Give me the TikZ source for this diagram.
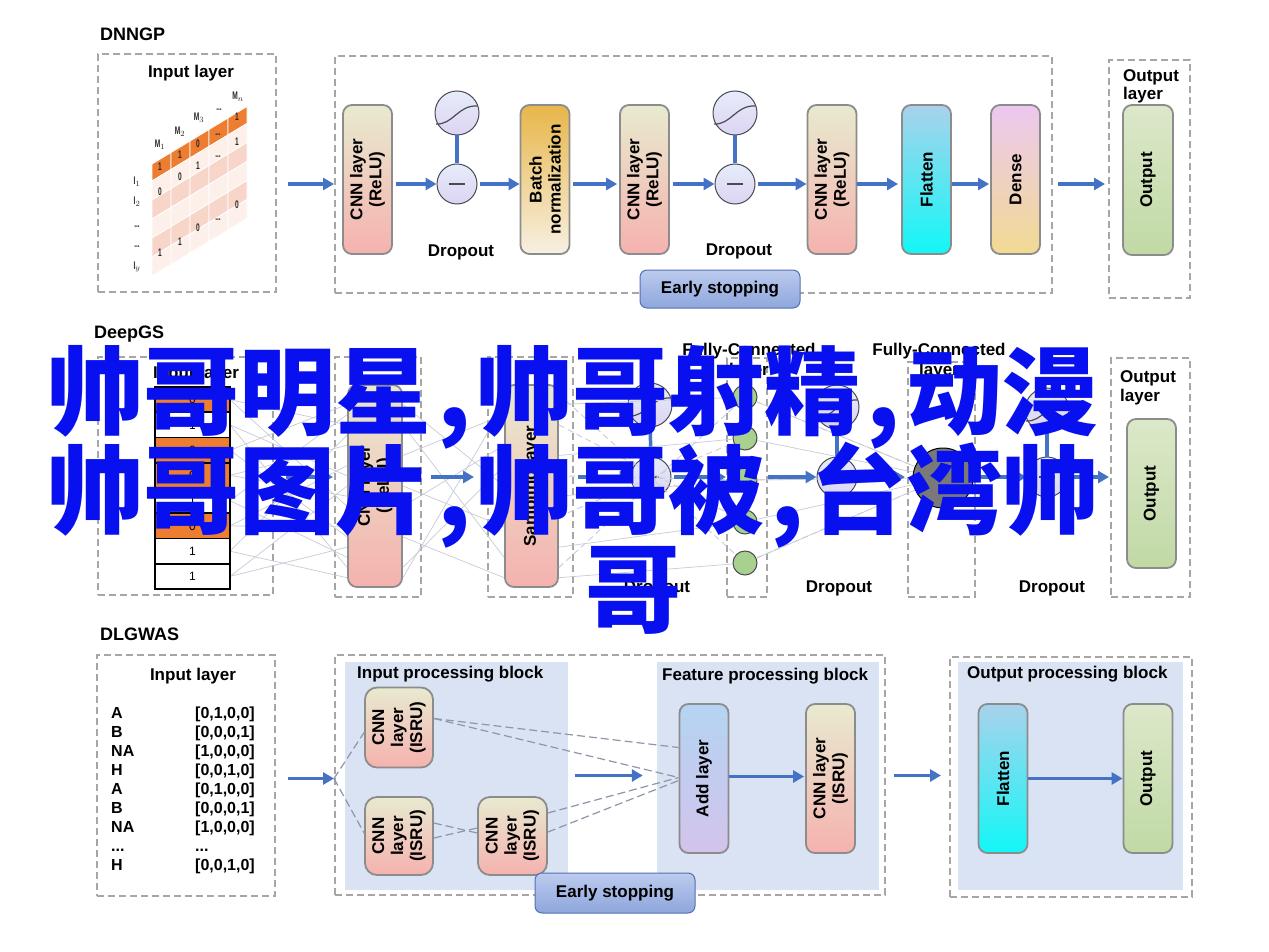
\documentclass[tikz,border=0pt]{standalone}
\usepackage{fontspec}
\setmainfont{Liberation Sans}
\newfontfamily\cjk{Noto Sans CJK SC}
\newfontfamily\narrowf{Liberation Sans}[FakeStretch=0.6]
\usetikzlibrary{arrows.meta,calc}
\newcommand{\mydots}{...}

\definecolor{boxgray}{HTML}{8C8C8C}
\definecolor{dashgray}{HTML}{A6A6A6}
\definecolor{arrowblue}{HTML}{4472C4}
\definecolor{cnnTop}{HTML}{E8EACF}
\definecolor{cnnBot}{HTML}{F5B2AE}
\definecolor{bnTop}{HTML}{E8B64A}
\definecolor{bnBot}{HTML}{F7F0E2}
\definecolor{flatTop}{HTML}{A9D2EC}
\definecolor{flatBot}{HTML}{12F7F7}
\definecolor{denseTop}{HTML}{ECC8F0}
\definecolor{denseBot}{HTML}{F2DA92}
\definecolor{outTop}{HTML}{DCE8CA}
\definecolor{outBot}{HTML}{C0D9A4}
\definecolor{addTop}{HTML}{B4D4F2}
\definecolor{addBot}{HTML}{D3C3EC}
\definecolor{blockfill}{HTML}{DAE3F3}
\definecolor{esTop}{HTML}{BCCBEE}
\definecolor{esBot}{HTML}{8EA6DC}
\definecolor{esBorder}{HTML}{5470B4}
\definecolor{circTop}{HTML}{E6ECFA}
\definecolor{circBot}{HTML}{DCD4F2}
\definecolor{neuBorder}{HTML}{4A4A55}
\definecolor{fcgreen}{HTML}{A9D18E}
\definecolor{mOrange}{HTML}{ED7D31}
\definecolor{mLight}{HTML}{FDF0EA}
\definecolor{mPink}{HTML}{F8D5C9}
\definecolor{netgray}{HTML}{C8CBD8}
\definecolor{fangray}{HTML}{8E96A8}
\definecolor{overlayblue}{RGB}{8,16,240}

\begin{document}
\begin{tikzpicture}[x=1pt,y=-1pt,
  lbl/.style={font=\bfseries\fontsize{17}{20}\selectfont, inner sep=0pt},
  ttl/.style={font=\bfseries\fontsize{18}{20}\selectfont, inner sep=0pt, anchor=base west},
  dbox/.style={draw=dashgray, line width=2pt, dash pattern=on 7pt off 4pt, inner sep=0pt},
  layer/.style={draw=boxgray, line width=1.8pt, rounded corners=9pt, minimum width=49pt, minimum height=149pt, inner sep=0pt},
  cnnl/.style={layer, top color=cnnTop, bottom color=cnnBot},
  bnl/.style={layer, top color=bnTop, bottom color=bnBot},
  flatl/.style={layer, top color=flatTop, bottom color=flatBot},
  densel/.style={layer, top color=denseTop, bottom color=denseBot},
  outl/.style={layer, top color=outTop, bottom color=outBot},
  addl/.style={layer, top color=addTop, bottom color=addBot},
  isru/.style={cnnl, minimum width=68pt, minimum height=80pt, rounded corners=12pt},
  vt/.style={rotate=90, align=center, font=\bfseries\fontsize{17}{19}\selectfont, inner sep=0pt},
  arr/.style={draw=arrowblue, line width=3.5pt, -{Triangle[length=11pt,width=12pt]}},
  neu/.style={circle, draw=neuBorder, line width=1pt, top color=circTop, bottom color=circBot, inner sep=0pt},
  sig/.style={neu, minimum size=44pt},
  mns/.style={neu, minimum size=40pt},
  fcn/.style={circle, draw=neuBorder, line width=1pt, fill=fcgreen, minimum size=24pt, inner sep=0pt},
  esb/.style={draw=esBorder, line width=1pt, rounded corners=7pt, top color=esTop, bottom color=esBot, minimum width=160pt, minimum height=38pt, inner sep=0pt, font=\bfseries\fontsize{17}{20}\selectfont},
  blk/.style={fill=blockfill, inner sep=0pt},
  cellb/.style={draw=black, line width=1.6pt, minimum width=75pt, minimum height=25.25pt, inner sep=0pt, font=\fontsize{12}{12}\selectfont},
  mtxt/.style={font=\narrowf\bfseries\fontsize{11}{11}\selectfont, inner sep=0pt, text=black!85},
  net/.style={draw=netgray, line width=0.7pt},
  netd/.style={draw=netgray, line width=0.9pt, dash pattern=on 6pt off 4pt},
  fan/.style={draw=fangray, line width=1.2pt, dash pattern=on 8pt off 4pt},
  seq/.style={font=\bfseries\fontsize{16}{18}\selectfont, inner sep=0pt, anchor=base west},
]
\useasboundingbox (0,0) rectangle (1269,952);
\fill[white] (0,0) rectangle (1269,952);

%%%%%%%%%%%%%%%% DNNGP %%%%%%%%%%%%%%%%
\node[ttl] (t1) at (100,41) {DNNGP};
\node[dbox, minimum width=178pt, minimum height=238pt] (inbox1) at (187,173) {};
\node[dbox, minimum width=717pt, minimum height=237pt] (main1) at (693.5,174.5) {};
\node[dbox, minimum width=81pt, minimum height=238pt] (outbox1) at (1149.5,179) {};
\node[lbl, anchor=base] (il1) at (191,78) {Input layer};

% skewed matrix
\foreach \i in {0,...,4}{
  \foreach \j in {0,...,5}{
    \pgfmathsetmacro{\xa}{152+19*\i}
    \pgfmathsetmacro{\ya}{\j==0 ? 164-11.5*\i : 164+17+19*(\j-1)-11.5*\i}
    \pgfmathsetmacro{\hh}{\j==0 ? 17 : 19}
    \ifnum\j=0 \def\cc{mOrange}\else\ifodd\j\def\cc{mLight}\else\def\cc{mPink}\fi\fi
    \filldraw[fill=\cc, draw=white, line width=0.8pt] (\xa,\ya) -- (\xa+19,\ya-11.5) -- (\xa+19,\ya-11.5+\hh) -- (\xa,\ya+\hh) -- cycle;
  }
}
\foreach \x/\y/\t [count=\k] in {160/145/M$_1$,180/132/M$_2$,199/118/M$_3$,219/110/\mydots,238/97/M$_n$,
  137/182/I$_1$,137/202/I$_2$,137/227/\mydots,137/247/\mydots,137/267/I$_y$,
  160/167/1,180/155/1,198/144/0,218/135/\mydots,237/117/1,
  160/192/0,180/177/0,198/166/1,218/157/\mydots,237/142/1,237/205/0,
  160/253/1,180/242/1,198/228/0,218/220/\mydots}
  \node[mtxt] (mv\k) at (\x,\y) {\t};

\node[cnnl, label={[vt]center:{CNN layer\\(ReLU)}}] (cnn1) at (367.5,179.5) {};
\node[sig] (d1t) at (457,113) {};
\node[mns] (d1b) at (457,184) {};
\node[bnl, label={[vt]center:{Batch\\normalization}}] (bn) at (545,179.5) {};
\node[cnnl, label={[vt]center:{CNN layer\\(ReLU)}}] (cnn2) at (644.5,179.5) {};
\node[sig] (d2t) at (735,113) {};
\node[mns] (d2b) at (735,184) {};
\node[cnnl, label={[vt]center:{CNN layer\\(ReLU)}}] (cnn3) at (832,179.5) {};
\node[flatl, label={[vt]center:Flatten}] (flat1) at (926.5,179.5) {};
\node[densel, label={[vt]center:Dense}] (dense) at (1015.5,179.5) {};
\node[outl, minimum width=50pt, minimum height=150pt, label={[vt]center:Output}] (out1) at (1148,180) {};
\node[lbl, anchor=base] (dl1) at (461,257) {Dropout};
\node[lbl, anchor=base] (dl2) at (739,255) {Dropout};
\node[lbl, anchor=base west] (ol1a) at (1123,82) {Output};
\node[lbl, anchor=base west] (ol1b) at (1123,100) {layer};
\node[esb] (es1) at (720,289) {Early stopping};

\foreach \c in {d1,d2}{
  \draw[arrowblue, line width=3.5pt] (\c t) -- (\c b);
  \draw[neuBorder, line width=1.2pt] ($(\c t)+(-21,11)$) .. controls ($(\c t)+(-4,12)$) and ($(\c t)+(1,-8)$) .. ($(\c t)+(20,-7)$);
  \draw[neuBorder, line width=1.2pt] ($(\c b)+(-8,0)$) -- ($(\c b)+(8,0)$);
}
\draw[arr] ($(inbox1.east |- d1b)+(11,0)$) -- (main1.west |- d1b);
\draw[arr, shorten <=3pt] (cnn1.east |- d1b) -- (d1b);
\draw[arr, shorten <=2pt] (d1b) -- (bn.west |- d1b);
\draw[arr, shorten <=3pt, shorten >=2pt] (bn.east |- d1b) -- (cnn2.west |- d1b);
\draw[arr, shorten <=3pt] (cnn2.east |- d2b) -- (d2b);
\draw[arr, shorten <=2pt] (d2b) -- (cnn3.west |- d2b);
\draw[arr, shorten >=3pt] (cnn3.east |- d2b) -- (flat1.west |- d2b);
\draw[arr, shorten >=1pt] (flat1.east |- d2b) -- (dense.west |- d2b);
\draw[arr] ($(dense.east |- d2b)+(17,0)$) -- ($(outbox1.west |- d2b)+(-3,0)$);

%%%%%%%%%%%%%%%% DeepGS %%%%%%%%%%%%%%%%
\node[ttl] (t2) at (94,338) {DeepGS};
\node[dbox, minimum width=175pt, minimum height=238pt] (inbox2) at (185.5,476) {};
\node[dbox, minimum width=86pt, minimum height=240pt] (cnnbox2) at (378,477) {};
\node[dbox, minimum width=85pt, minimum height=240pt] (sampbox) at (530.5,477) {};
\node[dbox, minimum width=40pt, minimum height=239pt] (fc1box) at (747,477.5) {};
\node[dbox, minimum width=67pt, minimum height=235pt] (fc2box) at (941.5,479.5) {};
\node[dbox, minimum width=79pt, minimum height=239pt] (outbox2) at (1150.5,477.5) {};
\node[lbl, anchor=base] (il2) at (196,378) {Input layer};

\node[cnnl, minimum width=54pt, minimum height=202pt, label={[vt]center:{CNN layer\\(ReLU)}}] (cnn4) at (375,486) {};
\node[cnnl, minimum width=53pt, minimum height=202pt, label={[vt]center:{Sampling layer}}] (samp) at (531.5,486) {};

% network lines
\foreach \a/\f in {1/0.2,1/0.6,2/0.45,2/0.9,3/0.1,3/0.75,4/0.3,4/0.55,5/0.15,5/0.85,6/0.4,6/0.7,7/0.25,7/0.95,8/0.5,8/0.8}
  \draw[net] (192.5+37.5, 387+25.25*\a-12.6) -- ($(cnn4.north west)!\f!(cnn4.south west)$);
\foreach \a/\b in {0.1/0.5,0.2/0.85,0.35/0.15,0.5/0.7,0.6/0.3,0.75/0.95,0.9/0.4,0.95/0.1}
  \draw[net] ($(cnn4.north east)!\a!(cnn4.south east)$) -- ($(samp.north west)!\b!(samp.south west)$);

\node[sig] (dat) at (650,405) {};
\node[mns] (dab) at (651,477) {};
\node[sig] (dbt) at (837,407) {};
\node[mns] (dbb) at (837,477) {};
\node[sig] (dct) at (1047,410) {};
\node[mns] (dcb) at (1047,477) {};
\foreach \c in {da,db,dc}{
  \draw[arrowblue, line width=3.5pt] (\c t) -- (\c b);
  \draw[neuBorder, line width=1.2pt] ($(\c t)+(-21,11)$) .. controls ($(\c t)+(-4,12)$) and ($(\c t)+(1,-8)$) .. ($(\c t)+(20,-7)$);
  \draw[neuBorder, line width=1.2pt] ($(\c b)+(-8,0)$) -- ($(\c b)+(8,0)$);
}
\foreach \y [count=\k] in {397,438,480,522,563}
  \node[fcn] (g\k) at (745,\y) {};
\node[circle, draw=black, line width=1pt, fill=gray!95!black, minimum size=60pt, inner sep=0pt] (big) at (943,478) {};
\foreach \k/\f in {1/0.1,2/0.35,3/0.55,4/0.8,5/0.95}{
  \draw[net] ($(samp.north east)!\f!(samp.south east)$) -- (g\k);
  \draw[netd] ($(samp.north east)!1-\f!(samp.south east)$) -- (g\k);
  \draw[net] (g\k) -- (big);
}
\foreach \k in {1,3,5}
  \draw[netd] (g\k) -- (big);

\node[lbl, anchor=base] (fl1a) at (749,355) {Fully-Connected};
\node[lbl, anchor=base] (fl1b) at (749,375) {layer};
\node[lbl, anchor=base] (fl2a) at (939,355) {Fully-Connected};
\node[lbl, anchor=base] (fl2b) at (939,375) {layer};
\node[lbl, anchor=base] (dl3) at (657,592) {Dropout};
\node[lbl, anchor=base] (dl4) at (839,592) {Dropout};
\node[lbl, anchor=base] (dl5) at (1052,592) {Dropout};
\node[lbl, anchor=base west] (ol2a) at (1120,382) {Output};
\node[lbl, anchor=base west] (ol2b) at (1120,401) {layer};
\node[outl, label={[vt]center:Output}] (out2) at (1151.5,493.5) {};

% input column
\foreach \v [count=\k] in {0,1,0,0,1,0,1,1}{
  \ifnum\v=0 \def\cc{mOrange}\else\def\cc{white}\fi
  \node[cellb, fill=\cc] (c\k) at (192.5,387+25.25*\k-12.6) {\v};
}

\draw[arr] ($(inbox2.east |- dab)+(12,0)$) -- ($(cnnbox2.west |- dab)+(-1,0)$);
\draw[arr] ($(cnnbox2.east |- dab)+(9,0)$) -- ($(sampbox.west |- dab)+(-13,0)$);
\draw[arr] ($(sampbox.east |- dab)+(4,0)$) -- (dab);
\draw[arr, shorten <=2pt] (dab) -- (fc1box.west |- dab);
\draw[arr] (fc1box.east |- dab) -- (dbb);
\draw[arr, shorten <=2pt] (dbb) -- ($(fc2box.west |- dab)+(-2,0)$);
\draw[arr] (fc2box.east |- dab) -- (dcb);
\draw[arr, shorten <=2pt] (dcb) -- ($(outbox2.west |- dab)+(-1,0)$);

%%%%%%%%%%%%%%%% DLGWAS %%%%%%%%%%%%%%%%
\node[ttl] (t3) at (100,640) {DLGWAS};
\node[dbox, minimum width=178pt, minimum height=241pt] (inbox3) at (186,775.5) {};
\node[lbl, anchor=base] (il3) at (193,680) {Input layer};
\foreach \a/\b [count=\k] in {A/{[0,1,0,0]},B/{[0,0,0,1]},NA/{[1,0,0,0]},H/{[0,0,1,0]},A/{[0,1,0,0]},B/{[0,0,0,1]},NA/{[1,0,0,0]},\mydots/\mydots,H/{[0,0,1,0]}}{
  \node[seq] (sa\k) at (111,699.5+19*\k) {\a};
  \node[seq] (sb\k) at (195,699.5+19*\k) {\b};
}
\node[dbox, minimum width=550pt, minimum height=240pt] (main3) at (610,775) {};
\node[blk, minimum width=223pt, minimum height=228pt] (ipb) at (456.5,776) {};
\node[blk, minimum width=222pt, minimum height=228pt] (fpb) at (768,776) {};
\node[dbox, minimum width=242pt, minimum height=240pt] (outbox3) at (1071,777) {};
\node[blk, minimum width=225pt, minimum height=228pt] (opb) at (1070.5,776) {};
\node[lbl, anchor=base west] (ipbl) at (357,678) {Input processing block};
\node[lbl, anchor=base west] (fpbl) at (662,680) {Feature processing block};
\node[lbl, anchor=base west] (opbl) at (967,678) {Output processing block};

\node[isru, label={[vt]center:{CNN\\layer\\(ISRU)}}] (n1) at (399,727.5) {};
\node[isru, minimum height=78pt, label={[vt]center:{CNN\\layer\\(ISRU)}}] (n2) at (399,836) {};
\node[isru, minimum height=78pt, minimum width=69pt, label={[vt]center:{CNN\\layer\\(ISRU)}}] (n3) at (512.5,836) {};
\node[addl, label={[vt]center:Add layer}] (add) at (704,778.5) {};
\node[cnnl, label={[vt]center:{CNN layer\\(ISRU)}}] (cnn5) at (830.5,778.5) {};
\node[flatl, label={[vt]center:Flatten}] (flat3) at (1003,778.5) {};
\node[outl, label={[vt]center:Output}] (out3) at (1148,778.5) {};
\node[esb, minimum height=40pt] (es3) at (615,893) {Early stopping};

\coordinate (fanc) at (main3.west |- add);
\draw[fan] (fanc) -- ($(n1.west)+(0,5)$);
\draw[fan] (fanc) -- ($(n2.west)+(0,-3)$);
\draw[fan] ($(n1.east)+(0,-9)$) -- ($(add.west)+(0,-31)$);
\draw[fan] ($(n1.east)+(0,-9)$) -- ($(add.west)+(0,-1)$);
\draw[fan] ($(n2.east)+(0,-13)$) -- ($(n3.west)+(0,-3)$);
\draw[fan] ($(n2.east)+(0,2)$) -- ($(n3.west)+(0,-8)$);
\draw[fan] ($(n3.east)+(0,-23)$) -- ($(add.west)+(0,-1)$);
\draw[fan] ($(n3.east)+(0,-4)$) -- ($(add.west)+(0,2)$);

\draw[arr] ($(inbox3.east |- add)+(12,0)$) -- (fanc);
\draw[arr] ($(ipb.east |- add)+(7,-3)$) -- ($(fpb.west |- add)+(-14,-3)$);
\draw[arr] ($(add.east)+(0,-2)$) -- ($(cnn5.west)+(-1,-2)$);
\draw[arr] ($(main3.east |- add)+(8,-3)$) -- ($(outbox3.west |- add)+(-8,-3)$);
\draw[arr] (flat3.east) -- (out3.west);

%%%%%%%%%%%%%%%% overlay text %%%%%%%%%%%%%%%%
\begin{scope}[every node/.style={inner sep=0pt, text=overlayblue, font=\cjk\bfseries\fontsize{96}{96}\selectfont}]
\node[anchor=base west] (ov1) at (47,427) {帅哥明星\kern6pt,\kern6pt帅哥射精\kern6pt,\kern6pt动漫};
\node[anchor=base west] (ov2) at (47,526) {帅哥图片\kern6pt,\kern6pt帅哥被\kern6pt,\kern6pt台湾帅};
\node[anchor=base west] (ov3) at (585,625) {哥};
\end{scope}
\end{tikzpicture}
\end{document}
